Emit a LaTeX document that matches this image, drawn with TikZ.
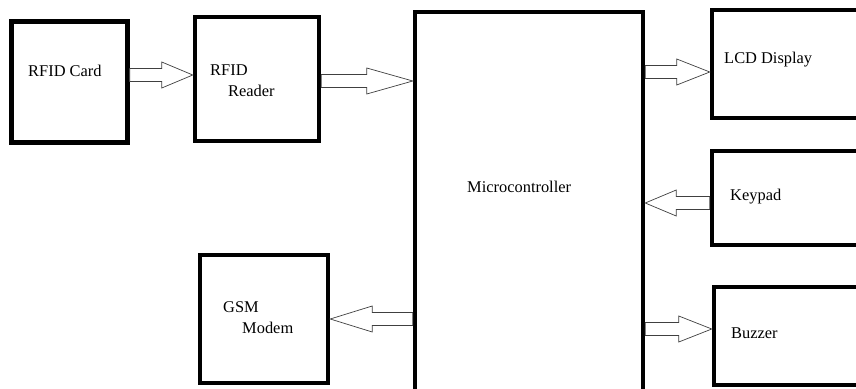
\documentclass[tikz,border=0pt]{standalone}
\usepackage{fontspec}
\setmainfont{Liberation Serif}
\usetikzlibrary{calc}
\newcommand{\shaftw}{0.195cm}
\newcommand{\headw}{0.39cm}
\newcommand{\blockarrow}[3][0.99cm]{%
  % #1=head length, #2=tail coordinate, #3=tip coordinate
  \coordinate (#2h) at ($(#3)!#1!(#2)$);
  \draw[hollow] ($(#2)!\shaftw!90:(#3)$) -- ($(#2h)!\shaftw!-90:(#2)$)
    -- ($(#2h)!\headw!-90:(#2)$) -- (#3) -- ($(#2h)!\headw!90:(#2)$)
    -- ($(#2h)!\shaftw!90:(#2)$) -- ($(#2)!\shaftw!-90:(#3)$) -- cycle;
}
\tikzset{
  block/.style={draw, line width=3.8pt, inner sep=0pt},
  lbl/.style={inner sep=0pt, anchor=west, font=\fontsize{14}{16}\selectfont},
  hollow/.style={draw=black!75, line width=0.6pt, fill=white, line join=miter}
}
\begin{document}
\begin{tikzpicture}[x=0.03cm, y=-0.03cm]
\useasboundingbox (0,0) rectangle (856,389);

% Blocks
\node[block, minimum width=3.48cm, minimum height=3.63cm] (card) at (69.5,82) {};
\node[block, minimum width=3.72cm, minimum height=3.72cm] (reader) at (257,79) {};
\node[block, minimum width=6.84cm, minimum height=11.64cm] (mcu) at (529,206) {};
\node[block, minimum width=6cm, minimum height=3.24cm] (lcd) at (812,64) {};
\node[block, minimum width=6cm, minimum height=2.82cm] (keypad) at (812,198) {};
\node[block, minimum width=6cm, minimum height=2.94cm] (buzzer) at (814,336) {};
\node[block, minimum width=3.84cm, minimum height=3.84cm] (gsm) at (264,319) {};

% Labels
\node[lbl] (cardtxt) at (28,71) {RFID Card};
\node[lbl] (readertxta) at (210,70) {RFID};
\node[lbl] (readertxtb) at (228,91) {Reader};
\node[lbl] (mcutxt) at (467,187) {Microcontroller};
\node[lbl] (lcdtxt) at (724,60) {LCD Display};
\node[lbl] (keypadtxt) at (730,197) {Keypad};
\node[lbl] (buzzertxt) at (731,333) {Buzzer};
\node[lbl] (gsmtxta) at (223,307) {GSM};
\node[lbl] (gsmtxtb) at (242,328) {Modem};

% Arrow ends
\coordinate (a1) at (card.east |- 0,75);
\coordinate (b1) at (reader.west |- 0,75);
\coordinate (a2) at (reader.east |- 0,81);
\coordinate (b2) at (mcu.west |- 0,81);
\coordinate (a3) at (mcu.east |- 0,72);
\coordinate (b3) at (lcd.west |- 0,72);
\coordinate (a4) at (keypad.west |- 0,203);
\coordinate (b4) at (mcu.east |- 0,203);
\coordinate (a5) at (mcu.west |- 0,319);
\coordinate (b5) at (gsm.east |- 0,319);
\coordinate (a6) at (mcu.east |- 0,329);
\coordinate (b6) at (buzzer.west |- 0,329);

% Arrows
\blockarrow[0.93cm]{a1}{b1}
\blockarrow[1.38cm]{a2}{b2}
\blockarrow{a3}{b3}
\blockarrow[0.93cm]{a4}{b4}
\blockarrow[1.26cm]{a5}{b5}
\blockarrow{a6}{b6}

\end{tikzpicture}
\end{document}
